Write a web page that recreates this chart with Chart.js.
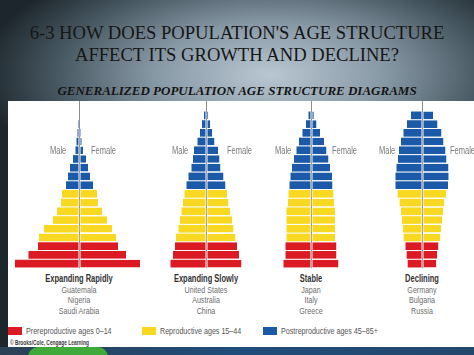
<!DOCTYPE html>
<html><head><meta charset="utf-8">
<script src="https://cdn.jsdelivr.net/npm/chart.js@4"></script>
<style>
html,body{margin:0;padding:0;}
body{width:474px;height:355px;overflow:hidden;position:relative;
 background:radial-gradient(ellipse 290px 130px at 270px 75px,#b9c7d1 0%,#8798a5 40%,#45555f 75%,#1d262c 100%);
 font-family:"Liberation Sans",Arial,sans-serif;}
.abs{position:absolute;}
#title{left:0;top:22px;width:474px;text-align:center;font-family:"Liberation Serif","Times New Roman",serif;font-size:18.6px;line-height:22px;color:#161616;}
#sub{left:0;top:84px;width:474px;text-align:center;font-family:"Liberation Serif","Times New Roman",serif;font-weight:bold;font-style:italic;font-size:13px;line-height:14px;color:#151515;}
#panel{left:8px;top:101px;width:466px;height:246px;background:#fff;}
#bottom{left:0;top:347px;width:474px;height:8px;background:linear-gradient(90deg,#2b4155 0%,#1f4c7a 50%,#24476c 100%);}
#blob{left:28px;top:347px;width:80px;height:12px;border-radius:10px 10px 0 0;background:#3faa3a;}
.cw{position:absolute;top:101px;height:167px;}
.mf{position:absolute;top:145px;font-size:10px;line-height:12px;color:#7a7a7a;white-space:nowrap;transform:scaleX(0.75);transform-origin:0 50%;}
.cap{position:absolute;top:274px;text-align:center;transform:translateX(-50%) scaleX(0.75);transform-origin:50% 50%;font-size:9.5px;line-height:10.5px;color:#6d6d6d;white-space:nowrap;}
.cap b{color:#333;font-size:10px;}
.sq{position:absolute;top:327px;width:14px;height:8px;}
.lt{position:absolute;top:325px;font-size:9.5px;line-height:12px;color:#555;white-space:nowrap;transform:scaleX(0.75);transform-origin:0 50%;}
#copy{left:10px;top:339px;font-size:6.5px;line-height:8px;font-weight:bold;color:#3a3a3a;white-space:nowrap;transform:scaleX(0.75);transform-origin:0 50%;}
</style></head>
<body>
<div id="title" class="abs">6-3 HOW DOES POPULATION'S AGE STRUCTURE<br>AFFECT ITS GROWTH AND DECLINE?</div>
<div id="sub" class="abs">GENERALIZED POPULATION AGE STRUCTURE DIAGRAMS</div>
<div id="panel" class="abs"></div>
<div id="bottom" class="abs"></div>
<div id="blob" class="abs"></div>

<div class="cw" style="left:12px;width:134px"><canvas id="c1"></canvas></div>
<div class="cw" style="left:162px;width:88px"><canvas id="c2"></canvas></div>
<div class="cw" style="left:265px;width:92px"><canvas id="c3"></canvas></div>
<div class="cw" style="left:370px;width:104px"><canvas id="c4"></canvas></div>

<div class="mf" style="left:50px">Male</div><div class="mf" style="left:91px">Female</div>
<div class="mf" style="left:172px">Male</div><div class="mf" style="left:227px">Female</div>
<div class="mf" style="left:275px">Male</div><div class="mf" style="left:332px">Female</div>
<div class="mf" style="left:379px">Male</div><div class="mf" style="left:450px">Female</div>

<div id="caps"></div>

<div class="sq" style="left:8px;background:#dc1a24"></div><div class="lt" style="left:26px" id="l1"></div>
<div class="sq" style="left:142px;background:#f8d820"></div><div class="lt" style="left:160px" id="l2"></div>
<div class="sq" style="left:263px;background:#1a5aa8"></div><div class="lt" style="left:281px" id="l3"></div>
<div id="copy" class="abs">© Brooks/Cole, Cengage Learning</div>

<script>
// ---- data (half-widths, youngest age group first) ----
const ageLabels = ["0-4","5-9","10-14","15-19","20-24","25-29","30-34","35-39","40-44",
  "45-49","50-54","55-59","60-64","65-69","70-74","75-79","80-84","85+"];
const groupNames = ["Prereproductive ages 0–14","Reproductive ages 15–44","Postreproductive ages 45–85+"];
const groupOfAge = [0,0,0,1,1,1,1,1,1,2,2,2,2,2,2,2,2,2];

const pyramidTitles = ["Expanding Rapidly","Expanding Slowly","Stable","Declining"];
const pyramidCountries = [["Guatemala","Nigeria","Saudi Arabia"],["United States","Australia","China"],["Japan","Italy","Greece"],["Germany","Bulgaria","Russia"]];

const rapidMale     = [64,50.5,41,40,35,26,22,18,17,13,11,9,6,3.5,2.5,1.5,1,0.5];
const rapidFemale   = [61,47,39,37,33,28,23,19,18,14,11,9,7,4,2.7,1.7,1,0.5];
const slowMale      = [35.5,33,31,30,27.5,26,24.5,23,21.5,19.5,17.5,14.5,13,12,8.5,6,4,2];
const slowFemale    = [35.5,33,31,29.5,27.5,26,24,22.5,21,19.5,17.5,14.5,13.5,12,8.5,6.2,4.2,2.2];
const stableMale    = [27.5,25.5,25.5,24.5,24.5,24.5,24.5,23,22.5,21.5,20.5,19,17,14.5,12,8.5,5,2.5];
const stableFemale  = [27.5,25.5,25.5,24,24,24,24,23,22.5,21.5,21,19,17.5,15.5,13,9,5.5,2.8];
const declineMale   = [14.3,15.3,16.5,18.3,19,20,21,22.3,24.3,26.5,26.5,25.5,24,23,21,18.5,15,11];
const declineFemale = [14.3,15.3,16.5,18.3,19,20,21,22.3,24.3,26,26.7,26.5,24.5,23.5,21.5,19.5,15.5,11];

// ---- styles ----
const groupColors = ["#dc1a24","#f8d820","#1a5aa8"];
const barColors = groupOfAge.map(g => groupColors[g]);

function makeChart(id, male, female, R){
  new Chart(document.getElementById(id), {
    type:'bar',
    data:{labels:ageLabels, datasets:[
      {label:'Male', data:male.map(v=>-v), backgroundColor:barColors, borderColor:'#ffffff',
       borderWidth:{left:0,right:0,top:0,bottom:0}, borderSkipped:false, barPercentage:0.88, categoryPercentage:1},
      {label:'Female', data:female, backgroundColor:barColors, borderColor:'#ffffff',
       borderWidth:{left:1,right:0,top:0,bottom:0}, borderSkipped:false, barPercentage:0.88, categoryPercentage:1}
    ]},
    options:{indexAxis:'y', responsive:true, maintainAspectRatio:false, animation:false,
      devicePixelRatio:1,
      plugins:{legend:{display:false}, tooltip:{enabled:false}},
      layout:{padding:0},
      scales:{
        y:{stacked:true, reverse:true, display:false},
        x:{stacked:true, position:'top', min:-R, max:R,
           ticks:{display:false, stepSize:R},
           grid:{color:c => (c.tick && c.tick.value===0) ? '#8c8c8c' : 'rgba(0,0,0,0)', tickLength:10, lineWidth:1},
           border:{display:false}},
        x2:{type:'linear', position:'bottom', min:-R, max:R, ticks:{display:false},
           grid:{display:false, drawTicks:false, tickLength:0}, border:{display:true, color:'#8c8c8c', width:1}}
      }}
  });
}
makeChart('c1', rapidMale, rapidFemale, 67);
makeChart('c2', slowMale, slowFemale, 44);
makeChart('c3', stableMale, stableFemale, 46);
makeChart('c4', declineMale, declineFemale, 52);

// captions
const capX = [79,206,311,422];
const caps = document.getElementById('caps');
pyramidTitles.forEach((t,i)=>{
  const d = document.createElement('div');
  d.className='cap'; d.style.left = capX[i]+'px';
  d.innerHTML = '<b>'+t+'</b><br>'+pyramidCountries[i].join('<br>');
  caps.appendChild(d);
});
document.getElementById('l1').textContent = groupNames[0];
document.getElementById('l2').textContent = groupNames[1];
document.getElementById('l3').textContent = groupNames[2];
</script>
</body></html>
